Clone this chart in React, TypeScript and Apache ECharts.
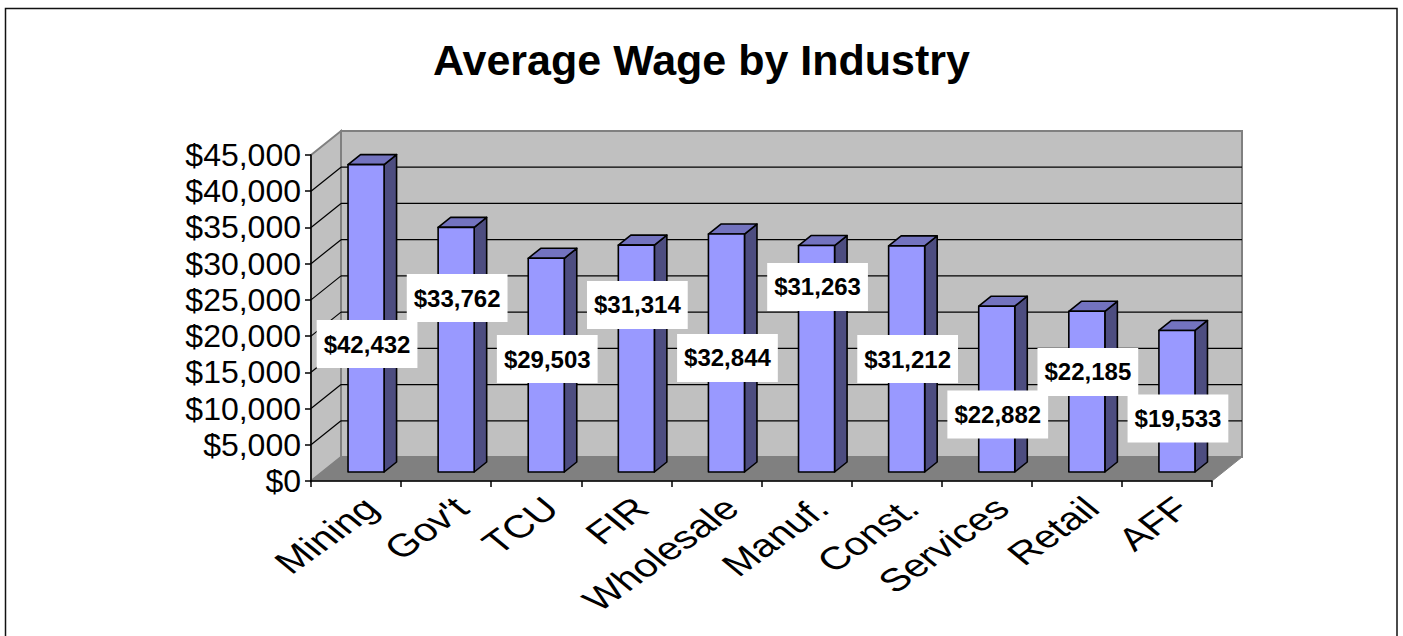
import React, { useEffect, useRef } from 'react';
import * as echarts from 'echarts';

// ---- data ----
const categories = ['Mining', "Gov't", 'TCU', 'FIR', 'Wholesale', 'Manuf.', 'Const.', 'Services', 'Retail', 'AFF'];
const wages = [42432, 33762, 29503, 31314, 32844, 31263, 31212, 22882, 22185, 19533];
// where the (Excel-placed) value labels sit, in dollars on the value axis
const labelAt = [18900, 25260, 16840, 24300, 16980, 26780, 16840, 9180, 15050, 8630];
const yMin = 0;
const yMax = 45000;
const yStep = 5000;

// ---- styling / geometry ----
const FONT = '"Liberation Sans", Arial, Helvetica, sans-serif';
const DEPTH: [number, number] = [30, -24]; // full floor depth (oblique)
const BAR_FRONT: [number, number] = [10, -9];
const BAR_BACK: [number, number] = [22.5, -19];
const BAR_FRAC = 0.4;
const XL_DX = 15;
const XL_DY = 22;
const XL_ROT = 43;
const XL_STRETCH = 1.3;
const XL_SIZE = 32;

const fmt = (v: number) => '$' + v.toLocaleString('en-US');

export default function App() {
  const ref = useRef<HTMLDivElement>(null);
  useEffect(() => {
    if (!ref.current) return;
    const chart = echarts.init(ref.current, undefined, { renderer: 'svg' });

    const frameRender = (params: any, api: any) => {
      const cs = params.coordSys as any;
      const gx = cs.x, gy = cs.y, gw = cs.width, gh = cs.height;
      const [DX, DY] = DEPTH;
      const ch: any[] = [];
      ch.push({
        type: 'polygon',
        shape: { points: [[gx + DX, gy + DY], [gx + gw + DX, gy + DY], [gx + gw + DX, gy + gh + DY], [gx + DX, gy + gh + DY]] },
        style: { fill: '#C0C0C0', stroke: '#808080', lineWidth: 2 },
      });
      ch.push({
        type: 'polygon',
        shape: { points: [[gx, gy], [gx + DX, gy + DY], [gx + DX, gy + gh + DY], [gx, gy + gh]] },
        style: { fill: '#C0C0C0', stroke: '#808080', lineWidth: 2 },
      });
      ch.push({
        type: 'polygon',
        shape: { points: [[gx, gy + gh], [gx + DX, gy + gh + DY], [gx + gw + DX, gy + gh + DY], [gx + gw, gy + gh]] },
        style: { fill: '#808080', stroke: '#808080', lineWidth: 1 },
      });
      for (let v = yMin + yStep; v < yMax; v += yStep) {
        const y = api.coord([0, v])[1];
        ch.push({
          type: 'line',
          shape: { x1: gx + DX, y1: y + DY, x2: gx + gw + DX, y2: y + DY },
          style: { stroke: '#000', lineWidth: 1.2 },
        });
        ch.push({
          type: 'line',
          shape: { x1: gx, y1: y, x2: gx + DX, y2: y + DY },
          style: { stroke: '#000', lineWidth: 1.2 },
        });
      }
      return { type: 'group', children: ch };
    };

    const barRender = (params: any, api: any) => {
      const i = api.value(0);
      const v = api.value(1);
      const top = api.coord([i, v]);
      const base = api.coord([i, 0]);
      const bw = api.size([1, 0])[0] * BAR_FRAC;
      const x0 = top[0] - bw / 2 + BAR_FRONT[0];
      const x1 = top[0] + bw / 2 + BAR_FRONT[0];
      const yT = top[1] + BAR_FRONT[1];
      const yB = base[1] + BAR_FRONT[1];
      const ddx = BAR_BACK[0] - BAR_FRONT[0];
      const ddy = BAR_BACK[1] - BAR_FRONT[1];
      const line = { stroke: '#000', lineWidth: 1.6, lineJoin: 'round' };
      return {
        type: 'group',
        children: [
          {
            type: 'polygon',
            shape: { points: [[x1, yT], [x1 + ddx, yT + ddy], [x1 + ddx, yB + ddy], [x1, yB]] },
            style: { fill: '#4D4D80', ...line },
          },
          {
            type: 'polygon',
            shape: { points: [[x0, yT], [x0 + ddx, yT + ddy], [x1 + ddx, yT + ddy], [x1, yT]] },
            style: { fill: '#7373BF', ...line },
          },
          {
            type: 'polygon',
            shape: { points: [[x0, yT], [x1, yT], [x1, yB], [x0, yB]] },
            style: { fill: '#9999FF', ...line },
          },
        ],
      };
    };

    const labelRender = (params: any, api: any) => {
      const i = api.value(0);
      const p = api.coord([i, api.value(1)]);
      return {
        type: 'text',
        x: p[0] + BAR_FRONT[0] + 1,
        y: p[1],
        style: {
          text: fmt(wages[i]),
          fontSize: 24,
          fontWeight: 'bold',
          fontFamily: FONT,
          fill: '#000',
          backgroundColor: '#fff',
          padding: [12, 7, 12, 7],
          align: 'center',
          verticalAlign: 'middle',
        },
      };
    };

    const xLabelRender = (params: any, api: any) => {
      const i = api.value(0);
      const p = api.coord([i, 0]);
      return {
        type: 'group',
        x: p[0] + XL_DX,
        y: p[1] + XL_DY,
        scaleX: XL_STRETCH,
        children: [
          {
            type: 'text',
            rotation: (XL_ROT * Math.PI) / 180,
            style: {
              text: categories[i],
              fontSize: XL_SIZE,
              fontFamily: FONT,
              fill: '#000',
              align: 'right',
              verticalAlign: 'middle',
            },
          },
        ],
      };
    };

    chart.setOption({
      animation: false,
      backgroundColor: '#fff',
      title: {
        text: 'Average Wage by Industry',
        left: 'center',
        top: 33,
        textStyle: { fontSize: 43, fontWeight: 'bold', fontFamily: FONT, color: '#000' },
      },
      graphic: [
        {
          type: 'rect',
          shape: { x: 5.5, y: 8.5, width: 1391.5, height: 700 },
          style: { fill: 'none', stroke: '#111', lineWidth: 1.5 },
          silent: true,
        },
      ],
      grid: { left: 311, right: 191, top: 155, bottom: 155 },
      xAxis: {
        type: 'category',
        data: categories,
        z: 10,
        axisLine: { lineStyle: { color: '#000', width: 1.5 } },
        axisTick: { show: true, length: 6, lineStyle: { color: '#000', width: 1.5 } },
        axisLabel: { show: false },
        splitLine: { show: false },
      },
      yAxis: {
        type: 'value',
        min: yMin,
        max: yMax,
        interval: yStep,
        z: 10,
        axisLine: { show: true, lineStyle: { color: '#000', width: 1.5 } },
        axisTick: { show: true, length: 6, lineStyle: { color: '#000', width: 1.5 } },
        axisLabel: {
          fontSize: 32,
          fontFamily: FONT,
          color: '#000',
          margin: 10,
          formatter: (v: number) => fmt(v),
        },
        splitLine: { show: false },
      },
      series: [
        { type: 'custom', name: 'frame', z: 1, silent: true, clip: false, renderItem: frameRender, data: [[0, 0]] },
        { type: 'custom', name: 'Average Wage', z: 2, clip: false, renderItem: barRender, data: wages.map((v, i) => [i, v]) },
        { type: 'custom', name: 'labels', z: 3, clip: false, renderItem: labelRender, data: labelAt.map((v, i) => [i, v]) },
        { type: 'custom', name: 'xlabels', z: 3, clip: false, renderItem: xLabelRender, data: categories.map((c, i) => [i, 0]) },
      ],
    });
    return () => chart.dispose();
  }, []);
  return (
    <div
      ref={ref}
      style={{ position: 'absolute', left: 0, top: 0, width: 1403, height: 636, background: '#fff' }}
    />
  );
}
